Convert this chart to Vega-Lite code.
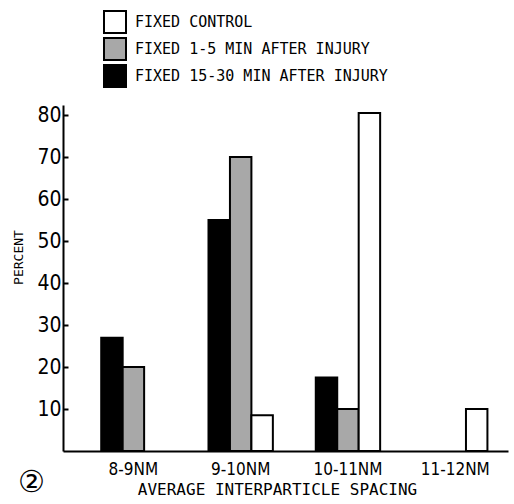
{
  "$schema": "https://vega.github.io/schema/vega-lite/v6.json",
  "autosize": "none",
  "width": 445,
  "height": 346,
  "padding": {"left": 63, "top": 105, "right": 6, "bottom": 53},
  "background": "white",
  "data": {
    "values": [
      {"spacing": "8-9NM", "series": "FIXED 15-30 MIN AFTER INJURY", "percent": 27},
      {"spacing": "8-9NM", "series": "FIXED 1-5 MIN AFTER INJURY", "percent": 20},
      {"spacing": "9-10NM", "series": "FIXED 15-30 MIN AFTER INJURY", "percent": 55},
      {"spacing": "9-10NM", "series": "FIXED 1-5 MIN AFTER INJURY", "percent": 70},
      {"spacing": "9-10NM", "series": "FIXED CONTROL", "percent": 8.5},
      {"spacing": "10-11NM", "series": "FIXED 15-30 MIN AFTER INJURY", "percent": 17.5},
      {"spacing": "10-11NM", "series": "FIXED 1-5 MIN AFTER INJURY", "percent": 10},
      {"spacing": "10-11NM", "series": "FIXED CONTROL", "percent": 80.5},
      {"spacing": "11-12NM", "series": "FIXED CONTROL", "percent": 10}
    ]
  },
  "title": {
    "text": "②",
    "orient": "bottom",
    "anchor": "start",
    "frame": "group",
    "fontSize": 30,
    "font": "DejaVu Sans",
    "fontWeight": "normal",
    "color": "black",
    "dx": -45,
    "dy": -33
  },
  "mark": {"type": "bar", "stroke": "black", "strokeWidth": 2},
  "encoding": {
    "x": {
      "field": "spacing",
      "type": "nominal",
      "sort": ["8-9NM", "9-10NM", "10-11NM", "11-12NM"],
      "scale": {"paddingInner": 0.4, "paddingOuter": 0.274, "align": 0.65},
      "axis": {
        "title": "AVERAGE INTERPARTICLE SPACING",
        "titleFont": "DejaVu Sans Mono",
        "titleFontSize": 16,
        "titleFontWeight": "normal",
        "titleColor": "black",
        "titleX": 214,
        "titleY": 30,
        "titleBaseline": "top",
        "labelAngle": 0,
        "labelFont": "DejaVu Sans Condensed, DejaVu Sans",
        "labelFontSize": 17,
        "labelColor": "black",
        "labelPadding": 10,
        "ticks": false,
        "domainColor": "black",
        "domainWidth": 2
      }
    },
    "xOffset": {
      "field": "series",
      "type": "nominal",
      "sort": ["FIXED 15-30 MIN AFTER INJURY", "FIXED 1-5 MIN AFTER INJURY", "FIXED CONTROL"],
      "scale": {"paddingInner": 0, "paddingOuter": 0}
    },
    "y": {
      "field": "percent",
      "type": "quantitative",
      "scale": {"domain": [0, 82.4], "nice": false},
      "axis": {
        "title": "PERCENT",
        "titleFont": "DejaVu Sans Mono",
        "titleFontSize": 13,
        "titleFontWeight": "normal",
        "titleColor": "black",
        "titleX": -38,
        "titleY": 152,
        "titleAlign": "center",
        "values": [10, 20, 30, 40, 50, 60, 70, 80],
        "grid": false,
        "labelFont": "DejaVu Sans Condensed, DejaVu Sans",
        "labelFontSize": 21,
        "labelColor": "black",
        "tickSize": -5,
        "tickColor": "black",
        "tickWidth": 2,
        "labelPadding": 7,
        "domainColor": "black",
        "domainWidth": 2
      }
    },
    "fill": {
      "field": "series",
      "type": "nominal",
      "scale": {
        "domain": ["FIXED CONTROL", "FIXED 1-5 MIN AFTER INJURY", "FIXED 15-30 MIN AFTER INJURY"],
        "range": ["white", "#a8a8a8", "black"]
      },
      "legend": {
        "title": null,
        "orient": "none",
        "legendX": 40,
        "legendY": -95,
        "padding": 0,
        "symbolType": "square",
        "symbolSize": 484,
        "symbolStrokeColor": "black",
        "symbolStrokeWidth": 2,
        "symbolOpacity": 1,
        "rowPadding": -14,
        "labelFont": "DejaVu Sans Mono",
        "labelFontSize": 15,
        "labelLimit": 400,
        "labelColor": "black",
        "labelOffset": 8
      }
    }
  },
  "config": {"view": {"stroke": null}}
}
